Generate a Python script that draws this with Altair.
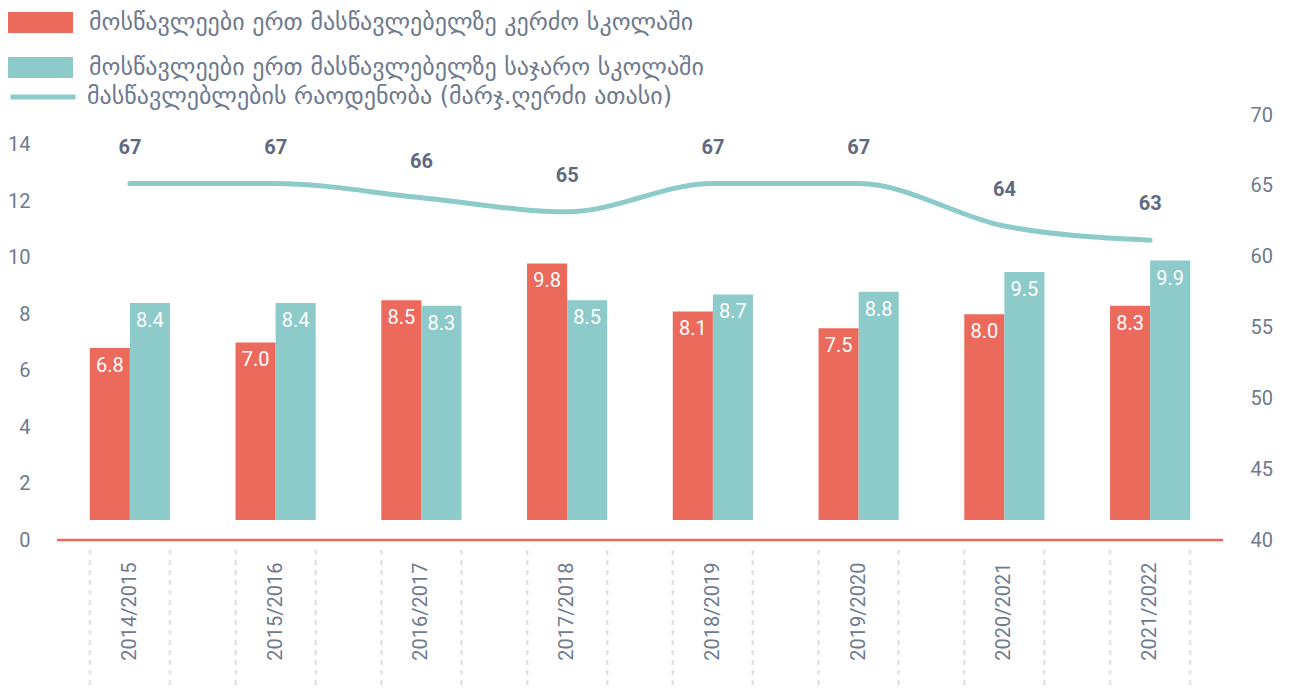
import altair as alt
import pandas as pd

years = ["2014/2015", "2015/2016", "2016/2017", "2017/2018",
         "2018/2019", "2019/2020", "2020/2021", "2021/2022"]
private_ratio = [6.8, 7.0, 8.5, 9.8, 8.1, 7.5, 8.0, 8.3]
public_ratio = [8.4, 8.4, 8.3, 8.5, 8.7, 8.8, 9.5, 9.9]
teachers = [67, 67, 66, 65, 67, 67, 64, 63]

s_private = "მოსწავლეები ერთ მასწავლებელზე კერძო სკოლაში"
s_public = "მოსწავლეები ერთ მასწავლებელზე საჯარო სკოლაში"
s_teachers = "მასწავლებლების რაოდენობა (მარჯ.ღერძი ათასი)"

RED = "#EC6A5C"
TEAL = "#8DCACA"
GREY = "#6E7A8E"
DARK = "#5E6A80"
NUM_FONT = "Roboto"
GEO_FONT = "DejaVu Sans"

W, H = 1166, 425

bars_df = pd.DataFrame({
    "year": years * 2,
    "series": [s_private] * len(years) + [s_public] * len(years),
    "value": private_ratio + public_ratio,
})
line_df = pd.DataFrame({"year": years, "teachers": teachers, "lbl": [s_teachers] * len(years)})
year_df = pd.DataFrame({"year": years})

X = alt.X("year:N", sort=years, title=None,
          scale=alt.Scale(paddingInner=0.45, paddingOuter=0.225),
          axis=alt.Axis(labelAngle=-90, labelFont=NUM_FONT, labelFontSize=20,
                        labelColor=GREY, labelPadding=22, ticks=False, domain=False,
                        grid=False))

YL = alt.Y("value:Q", title=None,
           scale=alt.Scale(domain=[0, 15.06], nice=False, zero=True),
           axis=alt.Axis(values=[0, 2, 4, 6, 8, 10, 12, 14], orient="left",
                         labelFont=NUM_FONT, labelFontSize=20, labelColor=GREY,
                         labelPadding=27, ticks=False, domain=False, grid=False))

XO = alt.XOffset("series:N", sort=[s_private, s_public],
                 scale=alt.Scale(paddingInner=0, paddingOuter=0))

bar_symbol = "M-1,-0.323L1,-0.323L1,0.323L-1,0.323Z"

bars = alt.Chart(bars_df).mark_bar(y2Offset=-20).encode(
    x=X, xOffset=XO, y=YL, y2=alt.datum(0),
    color=alt.Color("series:N", sort=[s_private, s_public],
                    scale=alt.Scale(domain=[s_private, s_public], range=[RED, TEAL]),
                    legend=alt.Legend(orient="none", legendX=-49, legendY=-125, title=None,
                                      symbolType=bar_symbol, symbolSize=4225,
                                      symbolOpacity=1, symbolStrokeWidth=0,
                                      labelFont=GEO_FONT, labelFontSize=24,
                                      labelColor=GREY, labelOffset=16, rowPadding=-36,
                                      padding=0, labelLimit=900)),
)

bar_text = alt.Chart(bars_df).mark_text(baseline="top", dy=8, color="white",
                                        font=NUM_FONT, fontSize=20).encode(
    x=X, xOffset=XO, y=YL, text=alt.Text("value:Q", format=".1f"),
)

baseline = alt.Chart(pd.DataFrame({"value": [0]})).mark_rule(color=RED, strokeWidth=2.5).encode(
    y=YL,
)

dash_left = alt.Chart(year_df).mark_rule(xOffset=-40, color="#E2E2E8", strokeWidth=2.5,
                                         strokeDash=[5, 5]).encode(
    x=X, y=alt.value(H + 10), y2=alt.value(H + 148),
)
dash_right = alt.Chart(year_df).mark_rule(xOffset=40, color="#E2E2E8", strokeWidth=2.5,
                                          strokeDash=[5, 5]).encode(
    x=X, y=alt.value(H + 10), y2=alt.value(H + 148),
)

YR = alt.Y("teachers:Q", title=None,
           scale=alt.Scale(domain=[40, 70], nice=False, zero=False),
           axis=alt.Axis(values=[40, 45, 50, 55, 60, 65, 70], orient="right",
                         labelFont=NUM_FONT, labelFontSize=20, labelColor=GREY,
                         labelPadding=27, ticks=False, domain=False, grid=False))

line = alt.Chart(line_df).mark_line(interpolate="monotone", strokeWidth=5,
                                    strokeCap="round", yOffset=26).encode(
    x=X, y=YR,
    stroke=alt.Stroke("lbl:N", scale=alt.Scale(domain=[s_teachers], range=[TEAL]),
                      legend=alt.Legend(orient="none", legendX=-49, legendY=-53, title=None,
                                        symbolType="stroke", symbolSize=4225,
                                        symbolStrokeWidth=5,
                                        labelFont=GEO_FONT, labelFontSize=24,
                                        labelColor=GREY, labelOffset=9,
                                        padding=0, labelLimit=900)),
)

line_text = alt.Chart(line_df).mark_text(dy=-10, font=NUM_FONT, fontSize=20,
                                         fontWeight="bold", color=DARK).encode(
    x=X, y=YR, text=alt.Text("teachers:Q"),
)

left_layer = alt.layer(bars, bar_text, baseline, dash_left, dash_right)
right_layer = alt.layer(line, line_text)

chart = alt.layer(left_layer, right_layer).resolve_scale(
    y="independent"
).properties(
    width=W, height=H,
    autosize=alt.AutoSizeParams(type="none"),
    padding={"left": 49, "top": 107, "right": 62, "bottom": 150},
).configure_view(stroke=None)

chart.save("out.html", embed_options={"renderer": "svg", "actions": False})
